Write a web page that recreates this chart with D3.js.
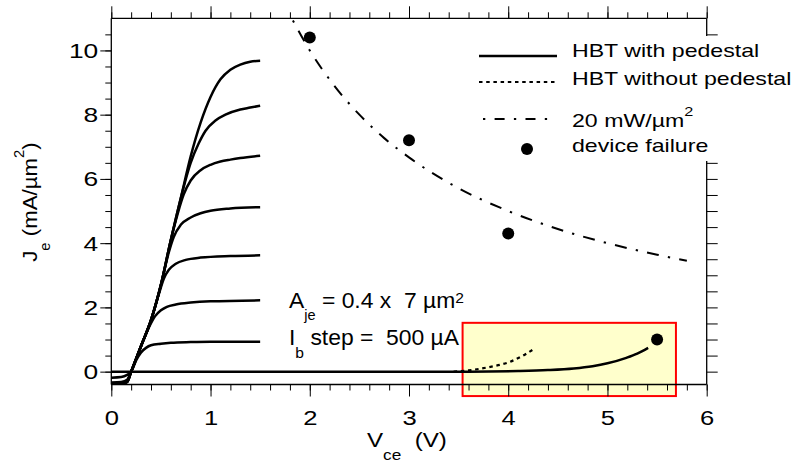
<!DOCTYPE html>
<html>
<head>
<meta charset="utf-8">
<script src="https://cdn.jsdelivr.net/npm/d3@7"></script>
<style>
  body { margin: 0; background: #fff; }
  svg { display: block; font-family: "Liberation Sans", Arial, Helvetica, sans-serif; }
  text { white-space: pre; }
</style>
</head>
<body>
<div class="container"></div>
<script>
const W = 792, H = 463;
const margin = {top: 18.3, right: 85.3, bottom: 78.5, left: 111.3};

// axis ticks
const vceTicks = [0, 1, 2, 3, 4, 5, 6];
const jeTicks = [0, 2, 4, 6, 8, 10];
const vceMinor = d3.range(0, 6.001, 0.2);
const jeMinor = d3.range(0, 10.501, 0.5);

// Ib family, step 500 uA : [Vce (V), Je (mA/um^2)]
const ib1 = [[0, -0.19], [0.1, -0.17], [0.16, -0.1], [0.2, 0], [0.25, 0.35], [0.3, 0.6], [0.35, 0.74], [0.4, 0.82], [0.5, 0.87], [0.6, 0.9], [0.8, 0.92], [1.0, 0.93], [1.5, 0.93]];
const ib2 = [[0, -0.34], [0.1, -0.32], [0.16, -0.25], [0.2, 0], [0.3, 0.8], [0.38, 1.38], [0.44, 1.72], [0.5, 1.91], [0.56, 2.02], [0.65, 2.09], [0.8, 2.15], [1.0, 2.19], [1.5, 2.22]];
const ib3 = [[0, -0.36], [0.1, -0.36], [0.16, -0.3], [0.2, 0], [0.3, 0.8], [0.4, 1.6], [0.48, 2.42], [0.53, 2.9], [0.58, 3.17], [0.65, 3.36], [0.75, 3.48], [0.9, 3.55], [1.2, 3.6], [1.5, 3.62]];
const ib4 = [[0, -0.37], [0.1, -0.37], [0.16, -0.31], [0.2, 0], [0.3, 0.8], [0.4, 1.6], [0.5, 2.7], [0.58, 3.72], [0.63, 4.2], [0.7, 4.57], [0.8, 4.8], [0.9, 4.93], [1.0, 5.01], [1.2, 5.08], [1.5, 5.12]];
const ib5 = [[0, -0.38], [0.1, -0.38], [0.16, -0.32], [0.2, 0], [0.3, 0.8], [0.4, 1.6], [0.5, 2.7], [0.6, 4.1], [0.67, 4.93], [0.73, 5.52], [0.8, 5.95], [0.9, 6.27], [1.0, 6.44], [1.1, 6.54], [1.2, 6.6], [1.3, 6.65], [1.5, 6.72]];
const ib6 = [[0, -0.38], [0.1, -0.38], [0.16, -0.32], [0.2, 0], [0.3, 0.8], [0.4, 1.6], [0.5, 2.7], [0.6, 4.1], [0.7, 5.4], [0.8, 6.5], [0.88, 7.1], [0.95, 7.5], [1.05, 7.82], [1.15, 8.0], [1.3, 8.16], [1.4, 8.22], [1.5, 8.28]];
const ib7 = [[0, -0.38], [0.1, -0.38], [0.16, -0.32], [0.2, 0], [0.3, 0.8], [0.4, 1.6], [0.5, 2.7], [0.6, 4.1], [0.7, 5.4], [0.8, 6.7], [0.9, 7.75], [1.0, 8.55], [1.1, 9.1], [1.2, 9.4], [1.3, 9.56], [1.4, 9.65], [1.5, 9.68]];
const family = [ib1, ib2, ib3, ib4, ib5, ib6, ib7];

// Ib = 0 sweep up to breakdown
const withPedestal = [[0, 0], [3.6, 0], [4.1, 0.02], [4.4, 0.05], [4.66, 0.1], [4.85, 0.17], [5.0, 0.26], [5.19, 0.43], [5.3, 0.56], [5.41, 0.74]];
const withoutPedestal = [[3.45, 0], [3.6, 0.04], [3.82, 0.15], [4.02, 0.31], [4.15, 0.5], [4.27, 0.73]];

// 20 mW/um^2 contour
const powerLimit = [[1.83, 10.93], [2.0, 10.0], [2.25, 8.89], [2.5, 8.0], [2.75, 7.27], [3.0, 6.67], [3.5, 5.71], [4.0, 5.0], [4.5, 4.44], [5.0, 4.0], [5.5, 3.64], [5.8, 3.45]];

// device failure points
const failure = [[2.0, 10.4], [3.0, 7.2], [4.0, 4.3], [5.5, 1.0]];

// highlighted region (Vce, Je)
const boxV = [3.54, 5.69];
const boxJ = [-0.76, 1.52];

const legendLabels = [
  [["HBT with pedestal", ""]],
  [["HBT without pedestal", ""]],
  [["20 mW/\u00b5m", ""], ["2", "sup"]],
  [["device failure", ""]]
];

const svg = d3.select('.container')
  .append('svg')
  .attr('width', W)
  .attr('height', H);

const x = d3.scaleLinear().domain([0, 6]).range([margin.left, W - margin.right]);
const y = d3.scaleLinear().domain([-0.4, 11]).range([H - margin.bottom, margin.top]);

// text with sub / superscripts, stretched horizontally
function rich(parent, parts, size, opts) {
  const t = parent.append('text')
    .attr('font-size', size)
    .attr('fill', '#000')
    .attr('text-anchor', opts.anchor || 'start')
    .attr('transform', opts.transform);
  let shift = 0;
  parts.forEach(([s, kind]) => {
    let target = 0, fs = size;
    if (kind === 'sub') { target = opts.sub; fs = opts.subSize; }
    if (kind === 'sup') { target = opts.sup; fs = opts.supSize; }
    t.append('tspan').attr('dy', target - shift).attr('font-size', fs).text(s);
    shift = target;
  });
  return t;
}

// highlight box
svg.append('rect')
  .attr('x', x(boxV[0]))
  .attr('y', y(boxJ[1]))
  .attr('width', x(boxV[1]) - x(boxV[0]))
  .attr('height', y(boxJ[0]) - y(boxJ[1]))
  .attr('fill', '#ffffcc')
  .attr('stroke', '#ff0000')
  .attr('stroke-width', 2);

// axes
const x0 = margin.left, x1 = W - margin.right;
const y0 = H - margin.bottom, y1 = margin.top;

function addAxis(axis, tx, ty) {
  const g = svg.append('g').attr('transform', `translate(${tx},${ty})`).call(axis);
  g.select('.domain').remove();
  g.selectAll('.tick line').attr('stroke', '#000').attr('stroke-width', 1);
  return g;
}

addAxis(d3.axisBottom(x).tickValues(vceMinor).tickSize(6).tickFormat(''), 0, y0);
const xb = addAxis(d3.axisBottom(x).tickValues(vceTicks).tickSize(12).tickFormat(d3.format('d')), 0, y0);
xb.selectAll('text')
  .attr('y', null).attr('dy', null)
  .attr('font-size', 20).attr('fill', '#000')
  .attr('font-family', '"Liberation Sans", Arial, sans-serif')
  .attr('transform', 'translate(0,40) scale(1.28,1)');

addAxis(d3.axisTop(x).tickValues(vceMinor).tickSize(6).tickFormat(''), 0, y1);
addAxis(d3.axisTop(x).tickValues(vceTicks).tickSize(12).tickFormat(''), 0, y1);

addAxis(d3.axisLeft(y).tickValues(jeMinor).tickSize(6).tickFormat(''), x0, 0);
const yl = addAxis(d3.axisLeft(y).tickValues(jeTicks).tickSize(11).tickFormat(d3.format('d')), x0, 0);
yl.selectAll('text')
  .attr('x', null).attr('dy', null)
  .attr('font-size', 20).attr('fill', '#000')
  .attr('font-family', '"Liberation Sans", Arial, sans-serif')
  .attr('transform', 'translate(-13,7) scale(1.32,1)');

addAxis(d3.axisRight(y).tickValues(jeMinor).tickSize(11).tickFormat(''), x1, 0);

const frame = svg.append('g').attr('stroke', '#000').attr('stroke-width', 1.3);
frame.append('line').attr('x1', x0).attr('x2', x1).attr('y1', y0).attr('y2', y0);
frame.append('line').attr('x1', x0).attr('x2', x1).attr('y1', y1).attr('y2', y1);
frame.append('line').attr('x1', x0).attr('x2', x0).attr('y1', y1).attr('y2', y0);
frame.append('line').attr('x1', x1).attr('x2', x1).attr('y1', y1).attr('y2', y0);

// curves
const line = d3.line()
  .x(d => x(d[0]))
  .y(d => y(d[1]))
  .curve(d3.curveMonotoneX);

const plot = svg.append('g').attr('fill', 'none').attr('stroke', '#000');

plot.selectAll('path.ib')
  .data(family)
  .enter().append('path')
  .attr('class', 'ib')
  .attr('d', line)
  .attr('stroke-width', 2.5);

plot.append('path').datum(withPedestal).attr('d', line).attr('stroke-width', 2.5);
plot.append('path').datum(withoutPedestal).attr('d', line)
  .attr('stroke-width', 2.2).attr('stroke-dasharray', '3.5,3.7');
plot.append('path').datum(powerLimit).attr('d', line)
  .attr('stroke-width', 2).attr('stroke-dasharray', '2.3,9.3,12,9.3');

svg.append('g')
  .selectAll('circle')
  .data(failure)
  .enter().append('circle')
  .attr('cx', d => x(d[0]))
  .attr('cy', d => y(d[1]))
  .attr('r', 6)
  .attr('fill', '#000');

// legend (white box hides the right axis behind it)
const legend = svg.append('g');
legend.append('rect')
  .attr('x', 466).attr('y', 36).attr('width', W - 466).attr('height', 125)
  .attr('fill', '#fff');

const legendRows = [57, 84.5, 126.5, 152];
legend.append('line').attr('x1', 479).attr('x2', 557).attr('y1', 56).attr('y2', 56)
  .attr('stroke', '#000').attr('stroke-width', 2.5);
legend.append('line').attr('x1', 479).attr('x2', 555).attr('y1', 82).attr('y2', 82)
  .attr('stroke', '#000').attr('stroke-width', 2.2).attr('stroke-dasharray', '3.5,3.7');
legend.append('line').attr('x1', 483).attr('x2', 550).attr('y1', 119).attr('y2', 119)
  .attr('stroke', '#000').attr('stroke-width', 2).attr('stroke-dasharray', '2.3,9.3,10,9.3');
legend.append('circle').attr('cx', 527).attr('cy', 149).attr('r', 6).attr('fill', '#000');

legendLabels.forEach((parts, i) => {
  rich(legend, parts, 18.5, {
    transform: `translate(572,${legendRows[i]}) scale(1.25,1)`,
    sup: -11, supSize: 13
  });
});

// annotations
rich(svg, [['A', ''], ['je', 'sub'], [' = 0.4 x  7 \u00b5m', ''], ['2', 'sup']], 22, {
  transform: 'translate(289,308) scale(1.04,1)',
  sub: 12, subSize: 14, sup: -5, supSize: 15
});
rich(svg, [['I', ''], ['b', 'sub'], [' step =  500 \u00b5A', '']], 22, {
  transform: 'translate(289,345) scale(1.04,1)',
  sub: 13, subSize: 15
});

// axis titles
rich(svg, [['V', ''], ['ce', 'sub'], ['  (V)', '']], 21, {
  transform: 'translate(367,447) scale(1.15,1)',
  sub: 13, subSize: 15
});
rich(svg, [['J', ''], ['e', 'sub'], [' (mA/\u00b5m', ''], ['2', 'sup'], [')', '']], 21, {
  anchor: 'middle',
  transform: 'translate(36.5,202) rotate(-90) scale(1.06,1)',
  sub: 13.5, subSize: 14, sup: -12.7, supSize: 14
});
</script>
</body>
</html>
